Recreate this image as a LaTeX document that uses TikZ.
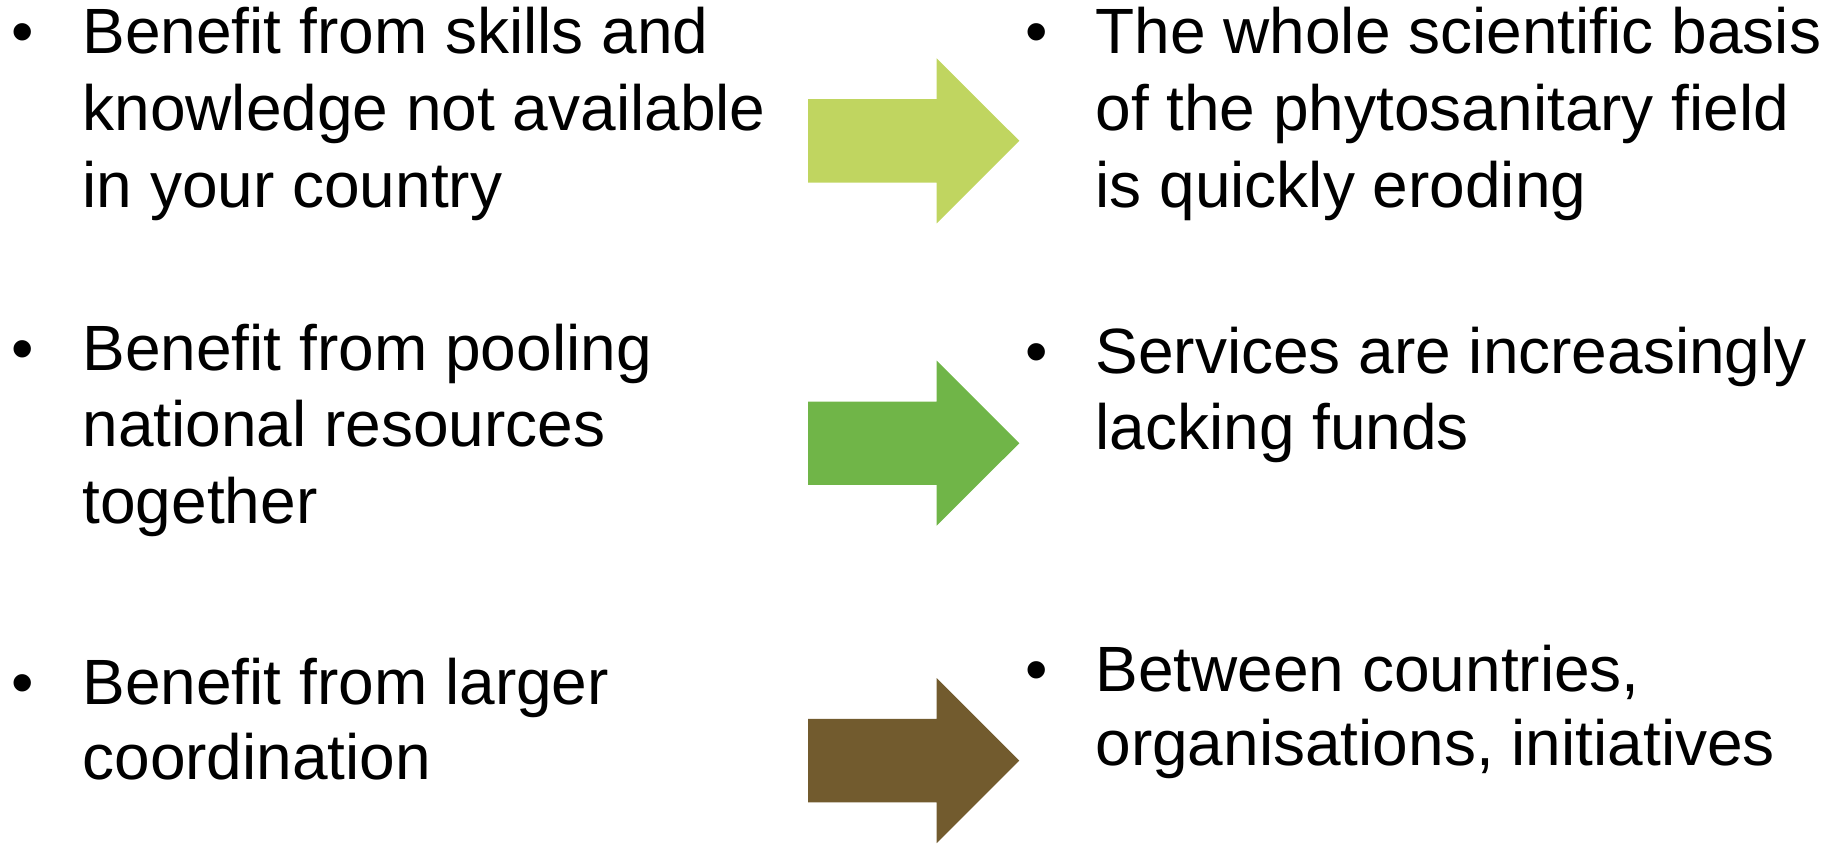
\documentclass[tikz,border=0pt]{standalone}
\usepackage{fontspec}
\setmainfont{Liberation Sans}
\definecolor{arrowlight}{HTML}{C0D560}
\definecolor{arrowgreen}{HTML}{70B548}
\definecolor{arrowbrown}{HTML}{725B2E}
\begin{document}
\begin{tikzpicture}[x=1pt,y=-1pt,
  txt/.style={anchor=base west,inner sep=0pt,outer sep=0pt,font=\fontsize{64}{76}\selectfont},
  bigarrow/.pic={\fill[#1] (0,-41.7) -- (128.7,-41.7) -- (128.7,-82.5) -- (211.3,0) -- (128.7,82.5) -- (128.7,41.7) -- (0,41.7) -- cycle;}]
\useasboundingbox (0,0) rectangle (1841,843);
% arrows
\pic at (808,140.8) {bigarrow=arrowlight};
\pic at (808,443.2) {bigarrow=arrowgreen};
\pic at (808,760.6) {bigarrow=arrowbrown};
% left column
\node[txt] (bl1) at (11.5,54) {•};
\node[txt] (l1a) at (82.5,54) {Benefit from skills and};
\node[txt] (l1b) at (82.5,130.5) {knowledge not available};
\node[txt] (l1c) at (82.5,207) {in your country};
\node[txt] (bl2) at (11.5,370) {•};
\node[txt] (l2a) at (82.5,370) {Benefit from pooling};
\node[txt] (l2b) at (82.5,446.5) {national resources};
\node[txt] (l2c) at (82.5,523) {together};
\node[txt] (bl3) at (11.5,704) {•};
\node[txt] (l3a) at (82.5,704) {Benefit from larger};
\node[txt] (l3b) at (82.5,779) {coordination};
% right column
\node[txt] (br1) at (1025.5,54) {•};
\node[txt] (r1a) at (1095.5,54) {The whole scientific basis};
\node[txt] (r1b) at (1095.5,130.5) {of the phytosanitary field};
\node[txt] (r1c) at (1095.5,207) {is quickly eroding};
\node[txt] (br2) at (1025.5,373) {•};
\node[txt] (r2a) at (1095.5,373) {Services are increasingly};
\node[txt] (r2b) at (1095.5,449) {lacking funds};
\node[txt] (br3) at (1025.5,691) {•};
\node[txt] (r3a) at (1095.5,691) {Between countries,};
\node[txt] (r3b) at (1095.5,765.5) {organisations, initiatives};
\end{tikzpicture}
\end{document}
